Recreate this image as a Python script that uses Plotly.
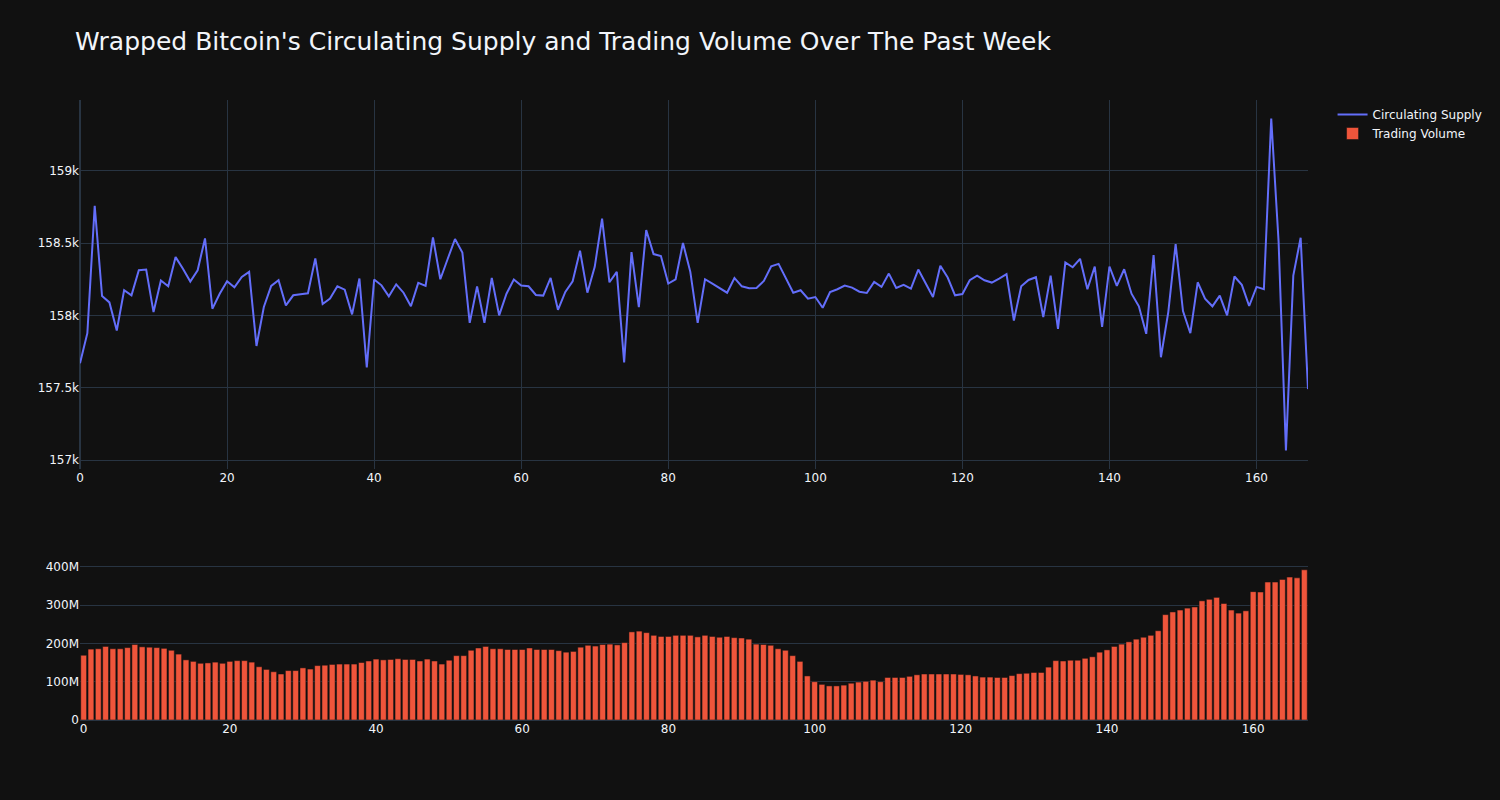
import plotly.graph_objects as go
from plotly.subplots import make_subplots

hours = list(range(168))

circulating_supply = [
    157669, 157877, 158757, 158134, 158090, 157896, 158174, 158139, 158312, 158317,
    158023, 158241, 158201, 158403, 158322, 158234, 158312, 158532, 158046, 158150,
    158236, 158194, 158266, 158301, 157789, 158058, 158204, 158243, 158069, 158139,
    158146, 158153, 158394, 158079, 158116, 158201, 158178, 158007, 158255, 157641,
    158248, 158208, 158132, 158215, 158157, 158063, 158225, 158204, 158539, 158250,
    158390, 158528, 158435, 157949, 158201, 157949, 158259, 158000, 158150, 158248,
    158206, 158201, 158141, 158137, 158259, 158039, 158162, 158236, 158447, 158157,
    158336, 158669, 158229, 158301, 157676, 158438, 158058, 158590, 158424, 158410,
    158220, 158250, 158500, 158301, 157949, 158250, 158220, 158188, 158157, 158259,
    158201, 158188, 158190, 158238, 158340, 158356, 158257, 158157, 158174, 158116,
    158127, 158053, 158162, 158181, 158206, 158192, 158164, 158155, 158231, 158197,
    158289, 158190, 158211, 158185, 158317, 158225, 158127, 158343, 158262, 158139,
    158148, 158243, 158275, 158243, 158227, 158255, 158285, 157965, 158201, 158245,
    158264, 157988, 158275, 157907, 158366, 158333, 158391, 158181, 158338, 157921,
    158338, 158204, 158319, 158150, 158063, 157873, 158417, 157711, 158023, 158493,
    158030, 157877, 158229, 158116, 158063, 158137, 158000, 158269, 158211, 158065,
    158197, 158181, 159361, 158509, 157067, 158275, 158537, 157491,
]

trading_volume_m = [
    169, 185, 186, 192, 186, 186, 189, 197, 191, 190,
    189, 187, 182, 172, 157, 153, 148, 149, 151, 148,
    153, 155, 155, 151, 139, 132, 126, 120, 129, 129,
    136, 133, 142, 143, 145, 146, 146, 146, 150, 154,
    159, 157, 158, 160, 158, 158, 154, 159, 154, 146,
    156, 168, 168, 182, 188, 192, 186, 186, 184, 184,
    184, 188, 184, 184, 184, 181, 177, 179, 190, 195,
    193, 197, 198, 196, 202, 230, 232, 228, 221, 218,
    218, 221, 221, 221, 217, 221, 218, 216, 218, 215,
    214, 211, 198, 197, 195, 186, 182, 168, 153, 115,
    100, 93, 89, 89, 91, 96, 99, 101, 104, 100,
    111, 111, 111, 114, 118, 120, 120, 120, 120, 120,
    119, 118, 115, 112, 112, 111, 111, 116, 121, 122,
    124, 124, 138, 155, 154, 156, 156, 161, 165, 177,
    183, 192, 198, 204, 211, 216, 221, 233, 275, 282,
    287, 292, 295, 311, 315, 320, 304, 287, 279, 285,
    335, 334, 360, 360, 367, 373, 371, 392,
]
trading_volume = [v * 1e6 for v in trading_volume_m]

fig = make_subplots(rows=2, cols=1, row_heights=[0.7, 0.3], vertical_spacing=0.15)

fig.add_trace(
    go.Scatter(x=hours, y=circulating_supply, mode="lines", name="Circulating Supply"),
    row=1, col=1,
)
fig.add_trace(
    go.Bar(x=hours, y=trading_volume, name="Trading Volume"),
    row=2, col=1,
)

fig.update_layout(
    template="plotly_dark",
    width=1500,
    height=800,
    font=dict(family="DejaVu Sans"),
    title=dict(
        text="Wrapped Bitcoin's Circulating Supply and Trading Volume Over The Past Week",
        font=dict(size=25),
        x=0.05,
    ),
)
fig.update_xaxes(range=[0, 167], row=1, col=1)

fig.write_html(
    "out.html",
    config={"displayModeBar": False},
    post_script="document.body.style.margin='0';",
)
